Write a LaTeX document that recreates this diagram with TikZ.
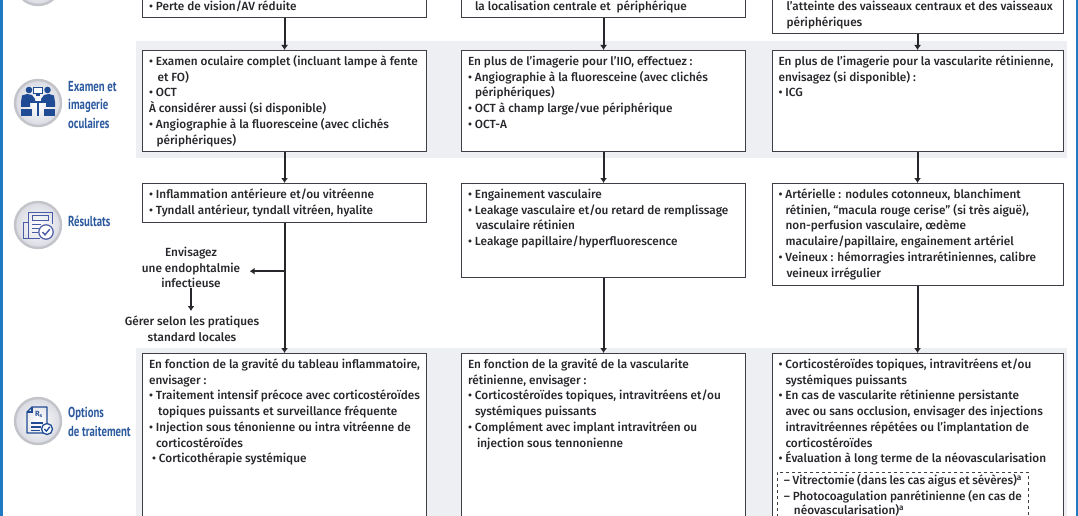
\documentclass[tikz,border=0pt]{standalone}
\usepackage{fontspec}
\setmainfont{Fira Sans}[UprightFont=* Medium,BoldFont=* SemiBold]
\newfontfamily\labfont[FakeStretch=0.74]{PT Sans}
\usetikzlibrary{arrows.meta,calc}
\definecolor{ink}{HTML}{26262B}
\definecolor{edge}{HTML}{3E3F46}
\definecolor{band}{HTML}{EDEFF3}
\definecolor{edgeblue}{HTML}{1F7AC4}
\definecolor{labblue}{HTML}{2C5A9E}
\definecolor{iconblue}{HTML}{1F4B94}
\definecolor{iconline}{HTML}{4A5BA6}
\definecolor{rim}{HTML}{C3C4C9}
\definecolor{discout}{HTML}{D9DAE2}
\newcommand{\TB}[4]{\parbox[c][#3][#1]{#2}{\raggedright\strut #4\strut}}
\newcommand{\hh}[1]{\hspace*{#1pt}}
\tikzset{
  x=1pt,y=-1pt,
  bodyfont/.style={font=\fontsize{11.8}{15.7}\selectfont,text=ink},
  panel/.style={draw=edge,line width=1.1pt,fill=white,inner xsep=6.5pt,inner ysep=4pt,bodyfont,anchor=north west},
  lastpanel/.style={panel,inner ysep=2.3pt},
  band strip/.style={fill=band,draw=none},
  arr/.style={draw=ink,line width=2pt,-{Latex[length=5pt,width=7pt]}},
  plainnote/.style={bodyfont,align=center,inner sep=0pt},
  sidelabel/.style={font=\labfont\bfseries\fontsize{14.5}{18.2}\selectfont,text=labblue,align=left,anchor=west,inner sep=0pt},
  disc/.style={circle,minimum size=46pt,inner sep=0pt,draw=rim,line width=2.4pt,inner color=white,outer color=discout},
  strokeicon/.style={draw=iconline,line width=1pt,fill=none},
  solidicon/.style={fill=iconblue,draw=none},
  darkicon/.style={draw=iconblue,line width=1.3pt,fill=none},
}
\begin{document}
\begin{tikzpicture}
\useasboundingbox (0,0) rectangle (1078,516);
\clip (0,0) rectangle (1078,516);
\fill[white] (0,0) rectangle (1078,516);
% side rules
\fill[edgeblue] (0,0) rectangle (2.5,516);
\fill[edgeblue] (1075.5,0) rectangle (1078,516);
% bands
\fill[band strip] (136,41) rectangle (1067,158);
\fill[band strip] (136,348) rectangle (1067,516);

% row 1
\node[lastpanel] (r1a) at (142,-30) {\TB{b}{271pt}{38pt}{\hh{0}• Perte de vision/AV réduite}};
\node[lastpanel] (r1b) at (461,-30) {\TB{b}{271pt}{38pt}{\hh{7}la localisation centrale et\ \ périphérique}};
\node[lastpanel] (r1c) at (771.5,-30) {\TB{b}{278pt}{53.7pt}{\hh{8}l’atteinte des vaisseaux centraux et des vaisseaux\\\hh{8}périphériques}};

% row 2
\node[panel] (r2a) at (142,50) {\TB{t}{271pt}{93pt}{• Examen oculaire complet (incluant lampe à fente\\\hh{8.5}et FO)\\• OCT\\À considérer aussi (si disponible)\\• Angiographie à la fluoresceine (avec clichés\\\hh{7.5}périphériques)}};
\node[panel] (r2b) at (461,50) {\TB{t}{271pt}{93pt}{En plus de l’imagerie pour l’IIO, effectuez :\\• Angiographie à la fluoresceine (avec clichés\\\hh{7}périphériques)\\• OCT à champ large/vue périphérique\\• OCT-A}};
\node[panel] (r2c) at (771.5,50) {\TB{t}{278pt}{93pt}{En plus de l’imagerie pour la vascularite rétinienne,\\envisagez (si disponible) :\\• ICG}};

% row 3
\node[panel] (r3a) at (142,183) {\TB{t}{271pt}{31pt}{• Inflammation antérieure et/ou vitréenne\\• Tyndall antérieur, tyndall vitréen, hyalite}};
\node[panel] (r3b) at (461,183) {\TB{t}{271pt}{85.5pt}{• Engainement vasculaire\\• Leakage vasculaire et/ou retard de remplissage\\\hh{8}vasculaire rétinien\\• Leakage papillaire/hyperfluorescence}};
\node[panel] (r3c) at (771.5,183) {\TB{t}{278pt}{94pt}{• Artérielle : nodules cotonneux, blanchiment\\\hh{7}rétinien, “macula rouge cerise” (si très aiguë),\\\hh{7}non-perfusion vasculaire, œdème\\\hh{7}maculaire/papillaire, engainement artériel\\• Veineux : hémorragies intrarétiniennes, calibre\\\hh{8}veineux irrégulier}};

% row 4
\node[panel] (r4a) at (142,353) {\TB{t}{271pt}{170pt}{En fonction de la gravité du tableau inflammatoire,\\envisager :\\• Traitement intensif précoce avec corticostéroïdes\\\hh{9}topiques puissants et surveillance fréquente\\• Injection sous ténonienne ou intra vitréenne de\\\hh{7}corticostéroïdes\\\hh{3}• Corticothérapie systémique}};
\node[panel] (r4b) at (461,353) {\TB{t}{271pt}{170pt}{En fonction de la gravité de la vascularite\\rétinienne, envisager :\\• Corticostéroïdes topiques, intravitréens et/ou\\\hh{7}systémiques puissants\\• Complément avec implant intravitréen ou\\\hh{9}injection sous tennonienne}};
\node[panel] (r4c) at (771.5,353) {\TB{t}{278pt}{170pt}{• Corticostéroïdes topiques, intravitréens et/ou\\\hh{7}systémiques puissants\\• En cas de vascularite rétinienne persistante\\\hh{7}avec ou sans occlusion, envisager des injections\\\hh{7}intravitréennes répétées ou l’implantation de\\\hh{7}corticostéroïdes\\• Évaluation à long terme de la néovascularisation}};
\node[draw=edge,dashed,line width=.9pt,anchor=north west,inner xsep=6.5pt,inner ysep=1pt,bodyfont] (dash) at (777,472) {\TB{t}{238pt}{60pt}{– Vitrectomie (dans les cas aigus et sévères)\textsuperscript{a}\\– Photocoagulation panrétinienne (en cas de\\[-1pt]\hh{10}néovascularisation)\textsuperscript{a}}};

% notes
\node[plainnote,minimum width=117pt] (endo) at (191,267.5) {Envisagez\\une endophtalmie\\infectieuse};
\node[plainnote,inner ysep=5pt] (std) at (192,329) {Gérer selon les pratiques\\standard locales};
\coordinate (jn) at ($(r3a.south)!0.37!(r4a.north)$);

% connectors
\draw[arr] (r1a.south) -- (r2a.north);
\draw[arr] (r1b.south) -- (r2b.north);
\draw[arr] (r1c.south) -- (r2c.north);
\draw[arr] (r2a.south) -- (r3a.north);
\draw[arr] (r2b.south) -- (r3b.north);
\draw[arr] (r2c.south) -- (r3c.north);
\draw[arr] (r3a.south) -- (r4a.north);
\draw[arr] (r3b.south) -- (r4b.north);
\draw[arr] (r3c.south) -- (r4c.north);
\draw[arr] (jn) -- (jn -| endo.east);
\draw[arr] (endo.south) -- (endo.south |- std.north);

% discs
\node[disc] (d0) at (38,-18) {};
\node[disc] (d1) at (38,103) {};
\node[disc] (d2) at (38,225) {};
\node[disc] (d3) at (38,421) {};

% side labels
\node[sidelabel] (l1) at (68,105) {Examen et\\imagerie\\oculaires};
\node[sidelabel] (l2) at (68,221.5) {Résultats};
\node[sidelabel] (l3) at (68,422) {Options\\de traitement};

% icon: consultation
\begin{scope}[shift={(d1.center)}]
  \fill[solidicon] (-9,-13) circle (3.3);
  \fill[solidicon] (9.5,-13) circle (3.3);
  \fill[solidicon] (-5,-16) rectangle (5,-8.5);
  \fill[white] (-3.8,-14.8) rectangle (3.8,-9.8);
  \fill[solidicon] (-2,-8.5) rectangle (2,-6.5);
  \fill[solidicon] (-17,-1) -- (-16,-7.5) -- (-11,-9) -- (-6,-8) -- (-3,-4) -- (-3,-2) -- (-8,-2) -- (-8,4) -- (-17,4) -- cycle;
  \fill[solidicon] (17,-1) -- (16,-7.5) -- (11,-9) -- (6,-8) -- (3,-4) -- (3,-2) -- (8,-2) -- (8,4) -- (17,4) -- cycle;
  \fill[solidicon] (-9,-1.5) rectangle (9,0.5);
  \fill[solidicon] (-1.2,0.5) rectangle (1.2,13);
  \fill[solidicon] (-17,6) rectangle (-6,13);
  \fill[solidicon] (6,6) rectangle (17,13);
\end{scope}

% icon: results
\begin{scope}[shift={(d2.center)}]
  \draw[strokeicon] (-10,-2) -- (-10,-13) -- (14,-13) -- (14,-1);
  \draw[strokeicon] (-6,-10) rectangle (10,-5);
  \draw[strokeicon] (-15,-3) -- (-10,-3);
  \draw[strokeicon] (-15,-3) -- (-15,13) -- (2,13);
  \draw[strokeicon] (-10,-3) -- (-10,13);
  \draw[strokeicon] (-6,-1) -- (3,-1);
  \draw[strokeicon] (-6,3) -- (1,3);
  \draw[strokeicon] (-6,7) -- (0,7);
  \draw[iconline,line width=1.2pt,fill=white] (8,7) circle (7.2);
  \draw[iconline,line width=1.4pt] (4.5,7) -- (7,9.8) -- (11.8,4.2);
\end{scope}

% icon: treatment
\begin{scope}[shift={(d3.center)}]
  \draw[darkicon,line join=round] (-6,-14) -- (9,-14) -- (9,12) -- (-11,12) -- (-11,-9) -- cycle;
  \draw[darkicon] (-6,-14) -- (-6,-9) -- (-11,-9);
  \node[font=\bfseries\fontsize{7.5}{8}\selectfont,text=iconblue,inner sep=0pt] (rxmark) at (1,-6.5) {R\textsubscript{x}};
  \draw[darkicon] (-7,2) -- (5,2);
  \draw[darkicon] (-7,6) -- (3,6);
  \draw[darkicon] (-7,9.5) -- (2,9.5);
  \draw[iconblue,line width=1.3pt,fill=white] (9,8) circle (5.5);
  \draw[iconblue,line width=1.3pt] (6.4,8) -- (8.4,10.2) -- (11.8,5.8);
\end{scope}
\end{tikzpicture}
\end{document}
